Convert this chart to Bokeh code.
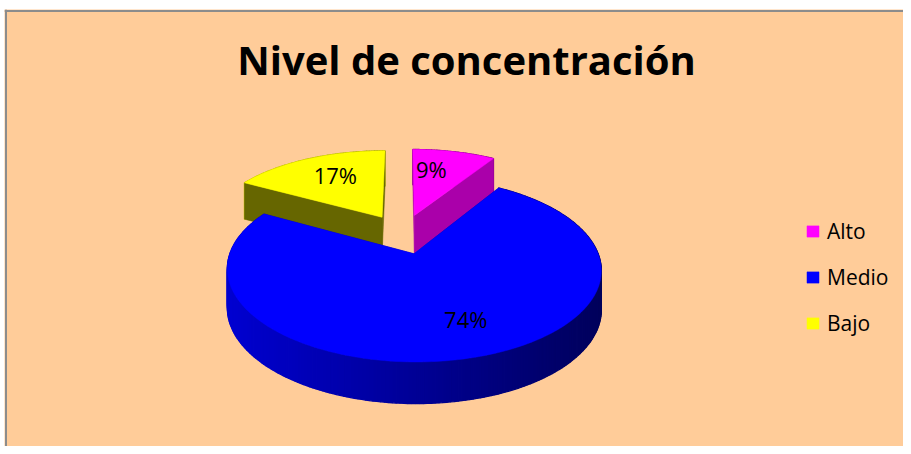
import numpy as np
from bokeh.plotting import figure
from bokeh.models import Range1d, Label, Legend, LegendItem, Span
from bokeh.core.properties import value
from bokeh.embed import file_html
from bokeh.resources import INLINE

# ---- data ----
title_text = "Nivel de concentración"
categories = ["Alto", "Medio", "Bajo"]
values = [9, 74, 17]
pct_labels = ["9%", "74%", "17%"]
top_colors = ["#FF00FF", "#0000FF", "#FFFF00"]
top_rgb = [(255, 0, 255), (0, 0, 255), (255, 255, 0)]
face_colors = ["#AA00AA", "#0000A0", "#666600"]

# ---- 3D pie projection parameters (pixel space) ----
CX, CY = 402.5, 233.3
A, B = 177.0, 82.6
D = 6.0
EXPLODE = 0.24
H = 38.0
LABEL_R = 0.7
LABEL_DX = [-12, 14, 7]
LABEL_DY = [0, -3, 0]


def g(Z):
    return D / (D + Z)


def proj(X, Z):
    X = np.asarray(X, float)
    Z = np.asarray(Z, float)
    return CX + A * X * g(Z), CY - B * Z * g(Z)


def depth(Z):
    return H * g(np.asarray(Z, float)) ** 0.4


def shade(rgb, f):
    return "#%02x%02x%02x" % tuple(int(max(0, min(255, c * f))) for c in rgb)


p = figure(width=903, height=446, output_backend="svg", toolbar_location=None,
           x_axis_type=None, y_axis_type=None,
           x_range=Range1d(4, 903), y_range=Range1d(446, 9),
           min_border_left=4, min_border_right=0, min_border_bottom=0, min_border_top=9,
           background_fill_color="#FFCC99", border_fill_color="white",
           outline_line_color=None)
p.grid.visible = False

total = float(sum(values))
fracs = np.array(values) / total
ends = np.cumsum(fracs) * 2 * np.pi
starts = ends - fracs * 2 * np.pi

slices = []
for i in range(len(values)):
    t0, t1 = starts[i], ends[i]
    mid = 0.5 * (t0 + t1)
    ox, oz = EXPLODE * np.sin(mid), EXPLODE * np.cos(mid)
    slices.append((i, t0, t1, mid, ox, oz))

# paint back-to-front
order = sorted(slices, key=lambda s: -s[5])
top_renderers = {}
for (i, t0, t1, mid, ox, oz) in order:
    n = max(8, int(np.degrees(t1 - t0) / 1.0))
    th = np.linspace(t0, t1, n)
    rx = ox + np.sin(th)
    rz = oz + np.cos(th)
    sx, sy = proj(rx, rz)
    sb = sy + depth(rz)
    # outer band, shaded left to right
    bxs, bys, bcol = [], [], []
    for k in range(n - 1):
        bxs.append([sx[k], sx[k + 1], sx[k + 1], sx[k]])
        bys.append([sy[k], sy[k + 1], sb[k + 1], sb[k]])
        xm = 0.5 * (sx[k] + sx[k + 1])
        f = np.clip(0.82 - 0.46 * (xm - 227) / 374, 0.35, 0.85)
        bcol.append(shade(top_rgb[i], f))
    p.patches(bxs, bys, fill_color=bcol, line_color=bcol, line_width=1.3)
    # radial faces
    tx, ty = proj([ox], [oz])
    tb = ty + depth([oz])
    fxs, fys = [], []
    for k in (0, n - 1):
        fxs.append([tx[0], sx[k], sx[k], tx[0]])
        fys.append([ty[0], sy[k], sb[k], tb[0]])
    p.patches(fxs, fys, fill_color=face_colors[i], line_color=face_colors[i], line_width=0.5)
    # top face
    px = np.concatenate([tx, sx])
    py = np.concatenate([ty, sy])
    r = p.patch(px, py, fill_color=top_colors[i], line_color=top_colors[i], line_width=0.5)
    top_renderers[i] = r

# percentage labels
lx, ly = [], []
for (i, t0, t1, mid, ox, oz) in slices:
    x, y = proj([ox + LABEL_R * np.sin(mid)], [oz + LABEL_R * np.cos(mid)])
    lx.append(float(x[0]) + LABEL_DX[i])
    ly.append(float(y[0]) + LABEL_DY[i])
p.text(x=lx, y=ly, text=pct_labels, text_align="center", text_baseline="middle",
       text_font=value("Open Sans"), text_font_size="22px", text_color="black")

# title
p.add_layout(Label(x=466, y=59, text=title_text, text_align="center",
                   text_baseline="alphabetic", text_font="Open Sans",
                   text_font_size="40px", text_font_style="bold", text_color="black"))

# chart border (left & top)
p.add_layout(Span(location=5.5, dimension="height", line_color="#8C8C8C", line_width=2))
p.add_layout(Span(location=10.5, dimension="width", line_color="#8C8C8C", line_width=2))

legend = Legend(items=[LegendItem(label=categories[i], renderers=[top_renderers[i]])
                       for i in range(len(categories))],
                location=(801, 109), orientation="vertical",
                glyph_width=15, glyph_height=14, label_standoff=7, spacing=18,
                padding=0, margin=0, border_line_color=None, background_fill_alpha=0,
                label_text_font="Open Sans", label_text_font_size="21px",
                label_text_color="black")
p.add_layout(legend, "center")

open("out.html", "w").write(file_html(p, INLINE))
